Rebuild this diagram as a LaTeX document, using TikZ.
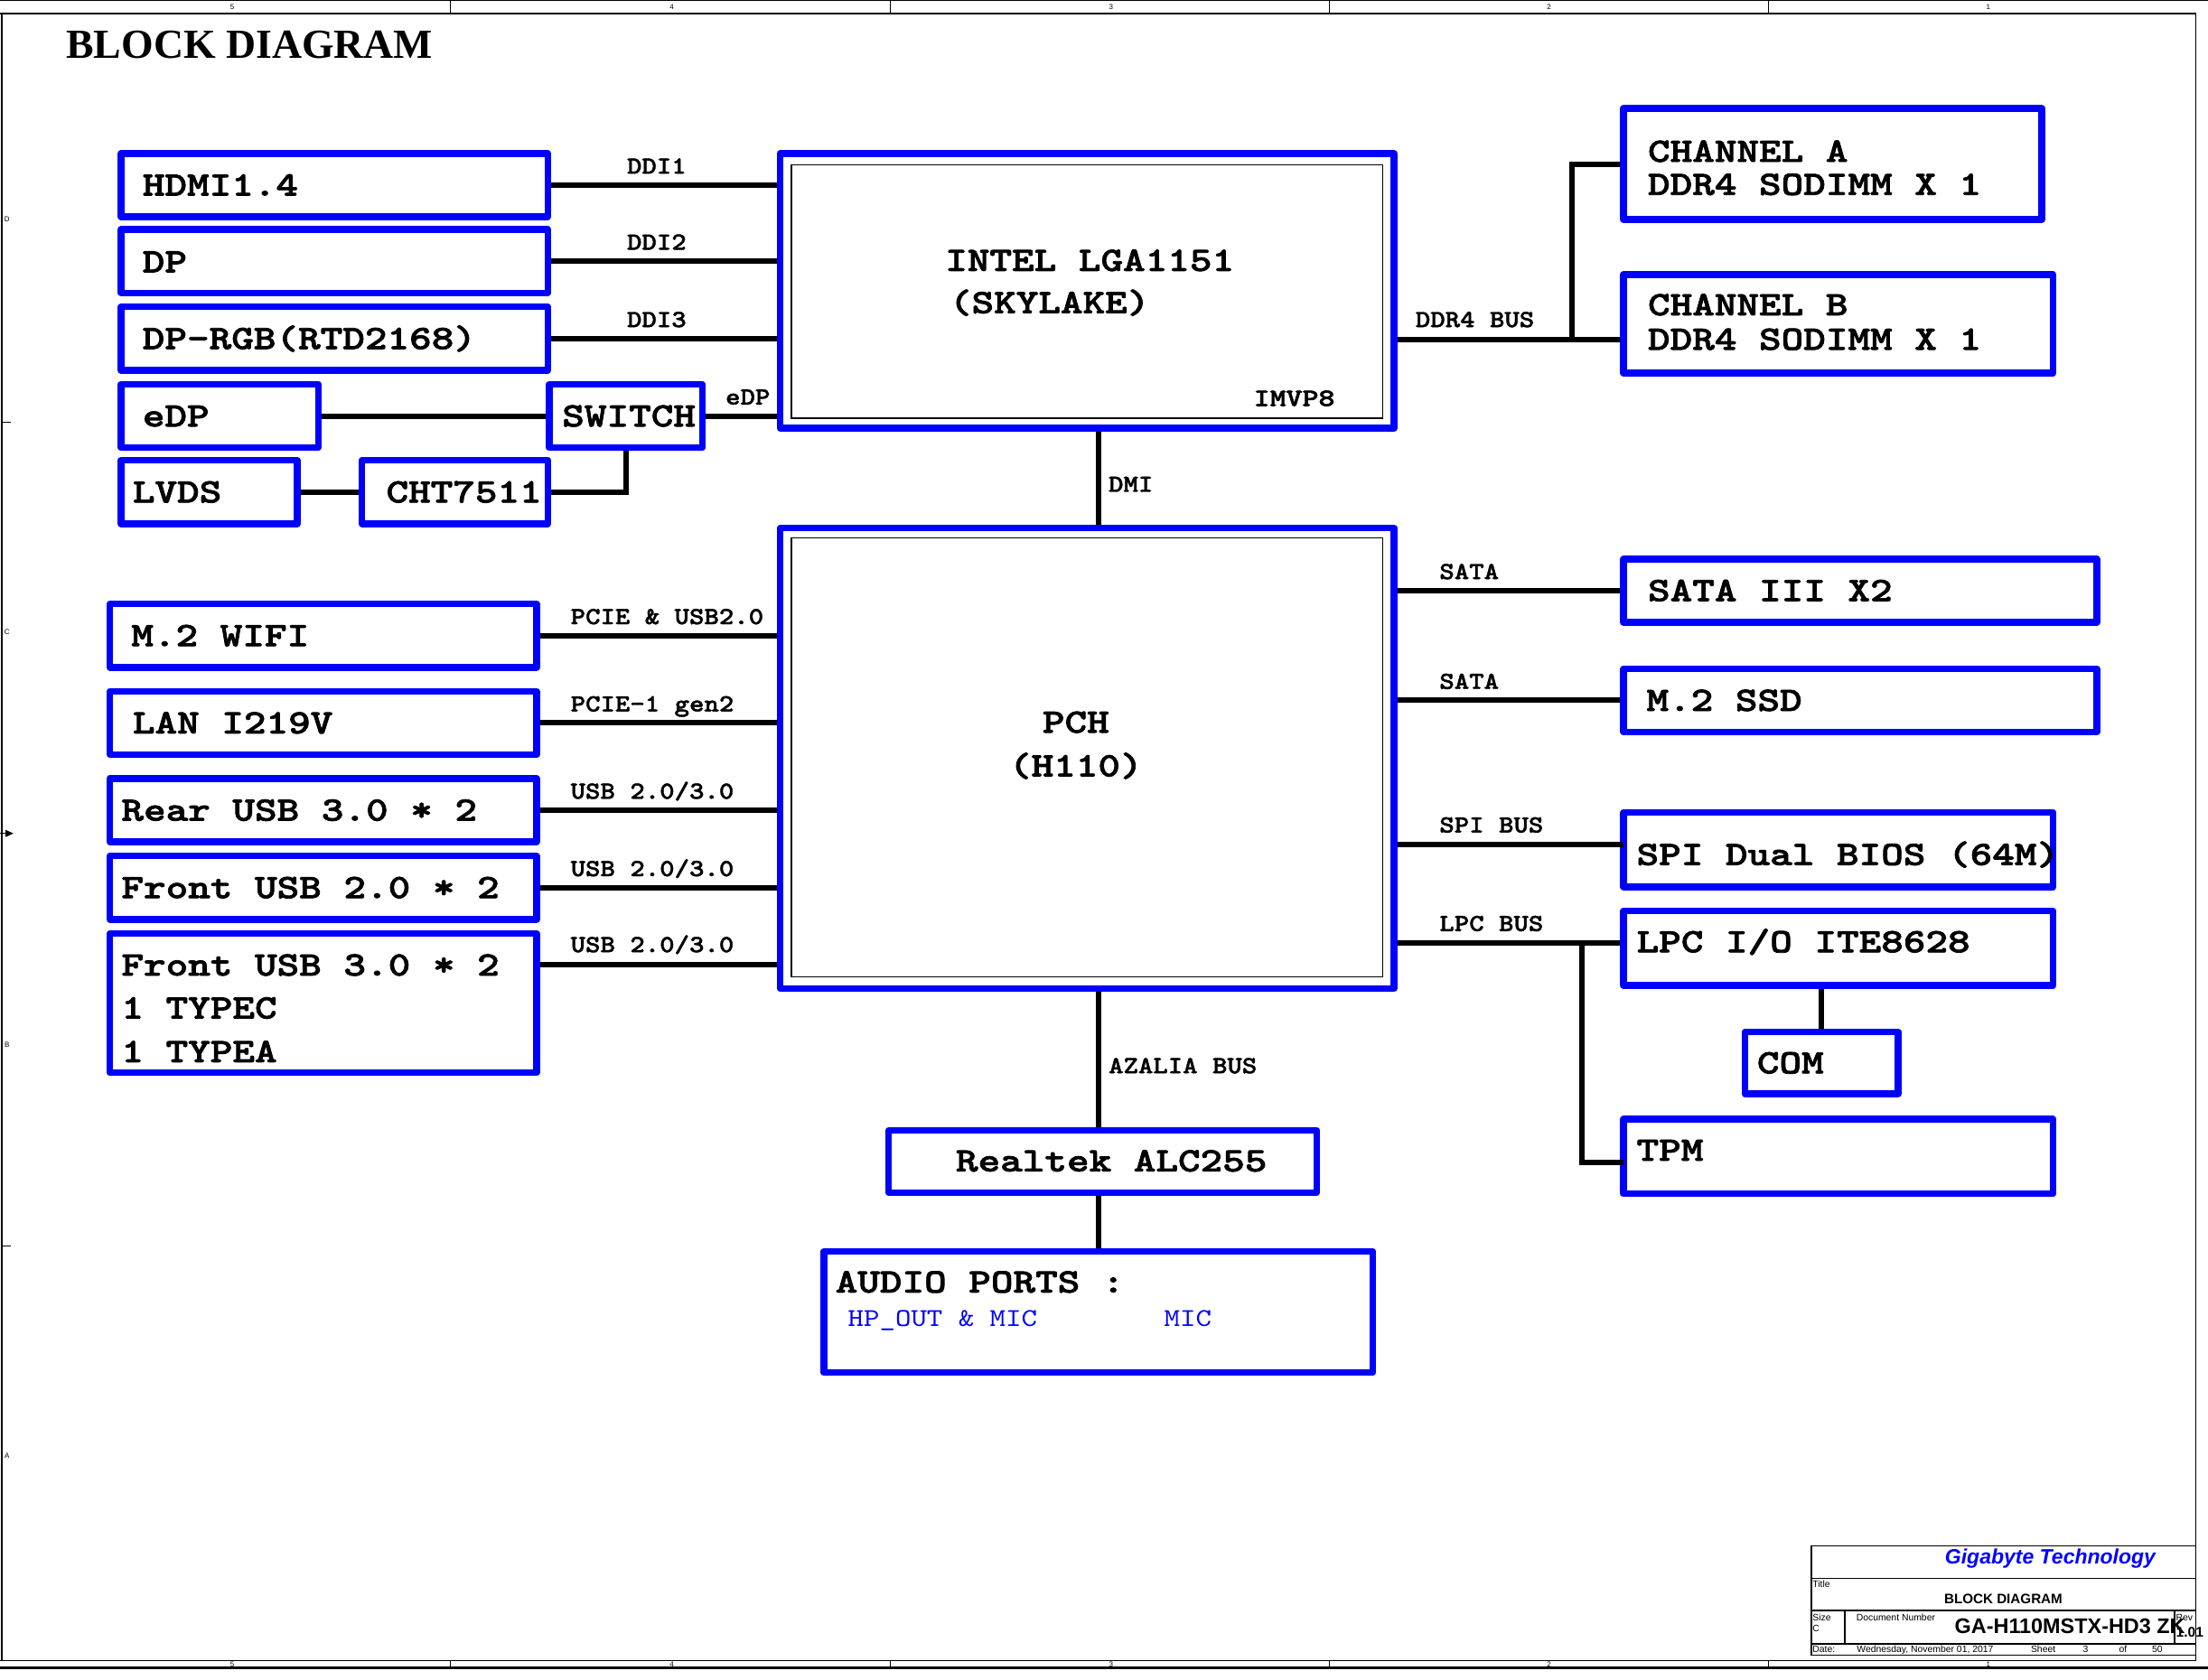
\documentclass[tikz,border=0pt]{standalone}
\usepackage{fontspec}
\setmainfont{Liberation Serif}
\newfontfamily\arialfnt{Liberation Sans}
\newfontfamily\boxfnt[FakeStretch=1.24,FakeBold=2]{lmmonolt10-bold.otf}
\newfontfamily\labfnt[FakeStretch=1.15,FakeBold=1.5]{lmmonolt10-bold.otf}
\newfontfamily\thinfnt[FakeStretch=1.17]{lmmono10-regular.otf}
\usetikzlibrary{fit}
\definecolor{bblue}{RGB}{0,0,255}
\begin{document}
\begin{tikzpicture}[x=0.77934pt,y=-0.77934pt,
 blk/.style={draw=bblue,line width=3.7pt,inner sep=0pt,line join=round},
 inr/.style={draw=black,line width=0.6pt,inner sep=0pt},
 wire/.style={draw=black,line width=3pt},
 btxt/.style={font=\boxfnt\fontsize{18.9}{22}\selectfont,inner sep=0pt,anchor=west,text height=11.55pt,text depth=0pt},
 ltxt/.style={font=\labfnt\fontsize{13.6}{16}\selectfont,inner sep=0pt,anchor=west,text height=8.3pt,text depth=0pt},
 mtxt/.style={font=\boxfnt\fontsize{13.8}{16}\selectfont,inner sep=0pt,anchor=west,text height=8.4pt,text depth=0pt},
 atxt/.style={font=\thinfnt\fontsize{14.2}{17}\selectfont,text=bblue,inner sep=0pt,anchor=west,text height=8.7pt,text depth=0pt},
 ztxt/.style={font=\arialfnt\fontsize{4}{4}\selectfont,inner sep=0pt},
 ttxt/.style={font=\arialfnt\fontsize{5.2}{6}\selectfont,inner sep=0pt,anchor=west,text height=3.8pt,text depth=0pt},
 frm/.style={draw=black,line width=0.7pt},
]
\useasboundingbox (0,0) rectangle (1568,1192.7);
% ---------- frame ----------
\draw[frm,line width=0.5pt] (0,0.5) -- (1568,0.5);
\draw[frm] (0,9.6) -- (1559.5,9.6) -- (1559.5,1179.4) -- (0,1179.4);
\draw[frm] (1.2,9.6) -- (1.2,1179.4);
\draw[frm,line width=1.5pt] (0,1184.8) -- (1568,1184.8);
\foreach \cx in {320,632,944,1256}{
  \draw[frm,line width=0.5pt] (\cx,0.5) -- (\cx,9.6);
  \draw[frm,line width=0.5pt] (\cx,1179.4) -- (\cx,1184.8);
}
\foreach \lab/\cx in {5/165,4/477,3/789,2/1100,1/1412}{
  \node[ztxt] (zt\lab) at (\cx,5) {\lab};
  \node[ztxt] (zb\lab) at (\cx,1182.1) {\lab};
}
\foreach \lab/\ry in {D/156,C/449,B/742,A/1034}{
  \node[ztxt] (zl\lab) at (5,\ry) {\lab};
}
\draw[frm,line width=0.5pt] (1.2,300) -- (8,300);
\draw[frm,line width=0.5pt] (1.2,885) -- (8,885);
\draw[frm,line width=0.5pt] (0,592) -- (5,592);
\fill (4,589.5) -- (9.5,592) -- (4,594.5) -- cycle;
% ---------- title ----------
\node[font=\bfseries\fontsize{22.9}{26}\selectfont,inner sep=0pt,anchor=west,text height=15.3pt,text depth=0pt] (title) at (46.8,31.5) {BLOCK DIAGRAM};
% ---------- title block ----------
\draw[frm,line width=0.6pt] (1286.3,1098.2) rectangle (1559.5,1175.5);
\draw[frm,line width=0.6pt] (1286.3,1121.3) -- (1559.5,1121.3);
\draw[frm,line width=0.9pt] (1286.3,1144.1) -- (1559.5,1144.1);
\draw[frm,line width=0.9pt] (1286.3,1167.6) -- (1559.5,1167.6);
\draw[frm,line width=0.9pt] (1309.9,1144.1) -- (1309.9,1167.6);
\draw[frm,line width=0.9pt] (1544,1144.1) -- (1544,1167.6);
\node[font=\arialfnt\bfseries\itshape\fontsize{11.5}{13}\selectfont,text=bblue,inner sep=0pt,anchor=west,text height=8.2pt,text depth=0pt] (tbco) at (1381,1105.6) {Gigabyte Technology};
\node[ttxt] (tbtitle) at (1287,1124.8) {Title};
\node[font=\arialfnt\bfseries\fontsize{7.6}{9}\selectfont,inner sep=0pt,anchor=west,text height=5.4pt,text depth=0pt] (tbname) at (1380.4,1135.6) {BLOCK DIAGRAM};
\node[ttxt] (tbsize) at (1287,1148.8) {Size};
\node[ttxt] (tbsizec) at (1287,1156.7) {C};
\node[ttxt] (tbdoc) at (1318,1148.8) {Document Number};
\node[font=\arialfnt\bfseries\fontsize{11.7}{13}\selectfont,inner sep=0pt,anchor=west,text height=8.4pt,text depth=0pt] (tbnum) at (1387.9,1154.8) {GA-H110MSTX-HD3 ZK};
\node[ttxt] (tbrev) at (1545,1148.8) {Rev};
\node[font=\arialfnt\bfseries\fontsize{7.8}{9}\selectfont,inner sep=0pt,anchor=west,text height=5.6pt,text depth=0pt] (tbrevn) at (1545,1159.5) {1.01};
\node[ttxt] (tbdate) at (1287,1171.5) {Date:};
\node[ttxt] (tbdatev) at (1318.4,1171.5) {Wednesday, November 01, 2017};
\node[ttxt] (tbsheet) at (1442,1171.5) {Sheet};
\node[ttxt] (tbsheetn) at (1479,1171.5) {3};
\node[ttxt] (tbof) at (1504.6,1171.5) {of};
\node[ttxt] (tbtot) at (1528,1171.5) {50};
% ---------- blocks ----------
\node[blk,fit={(86,109) (389,154)}] (hdmi) {};
\node[blk,fit={(86,163) (389,208)}] (dp) {};
\node[blk,fit={(86,218) (389,263)}] (dprgb) {};
\node[blk,fit={(86,273) (226,318)}] (edp) {};
\node[blk,fit={(390,273) (499,318)}] (switch) {};
\node[blk,fit={(86,327) (211,372)}] (lvds) {};
\node[blk,fit={(257,327) (389,372)}] (cht) {};
\node[blk,fit={(554,109) (990,304)}] (cpu) {};
\node[inr,fit={(562,117) (982,297)}] (cpuin) {};
\node[blk,fit={(1153,77) (1450,156)}] (cha) {};
\node[blk,fit={(1153,195) (1458,265)}] (chb) {};
\node[blk,fit={(554,375) (990,702)}] (pch) {};
\node[inr,fit={(562,382) (982,694)}] (pchin) {};
\node[blk,fit={(78,429) (381,474)}] (wifi) {};
\node[blk,fit={(78,491) (381,536)}] (lan) {};
\node[blk,fit={(78,553) (381,598)}] (rusb) {};
\node[blk,fit={(78,608) (381,653)}] (fusb2) {};
\node[blk,fit={(78,663) (381,762)}] (fusb3) {};
\node[blk,fit={(1153,397) (1489,442)}] (sata) {};
\node[blk,fit={(1153,475) (1489,520)}] (ssd) {};
\node[blk,fit={(1153,577) (1458,630)}] (spi) {};
\node[blk,fit={(1153,647) (1458,700)}] (lpc) {};
\node[blk,fit={(1239,733) (1348,777)}] (com) {};
\node[blk,fit={(1153,795) (1458,848)}] (tpm) {};
\node[blk,fit={(631,803) (935,847)}] (rtk) {};
\node[blk,fit={(585,889) (975,975)}] (audio) {};
% ---------- block texts ----------
\node[btxt] (hdmi-t) at (101,131.5) {HDMI1.4};
\node[btxt] (dp-t) at (101,186) {DP};
\node[btxt] (dprgb-t) at (101,240.5) {DP-RGB(RTD2168)};
\node[btxt] (edp-t) at (101,295.5) {eDP};
\node[btxt] (switch-t) at (399,295.5) {SWITCH};
\node[btxt] (lvds-t) at (94,349.5) {LVDS};
\node[btxt] (cht-t) at (274,349.5) {CHT7511};
\node[btxt] (cpu-t1) at (671,185) {INTEL LGA1151};
\node[btxt] (cpu-t2) at (674,215) {(SKYLAKE)};
\node[mtxt] (cpu-t3) at (890,283) {IMVP8};
\node[btxt] (cha-t1) at (1170,107.5) {CHANNEL A};
\node[btxt] (cha-t2) at (1170,131) {DDR4 SODIMM X 1};
\node[btxt] (chb-t1) at (1170,216.5) {CHANNEL B};
\node[btxt] (chb-t2) at (1170,241) {DDR4 SODIMM X 1};
\node[btxt,anchor=center] (pch-t1) at (764,513) {PCH};
\node[btxt,anchor=center] (pch-t2) at (764,544) {(H110)};
\node[btxt] (wifi-t) at (93,451.5) {M.2 WIFI};
\node[btxt] (lan-t) at (94,513.5) {LAN I219V};
\node[btxt] (rusb-t) at (86,575.5) {Rear USB 3.0 * 2};
\node[btxt] (fusb2-t) at (86,630.5) {Front USB 2.0 * 2};
\node[btxt] (fusb3-t1) at (86,685.5) {Front USB 3.0 * 2};
\node[btxt] (fusb3-t2) at (86,716) {1 TYPEC};
\node[btxt] (fusb3-t3) at (86,747) {1 TYPEA};
\node[btxt] (sata-t) at (1170,419.5) {SATA III X2};
\node[btxt] (ssd-t) at (1169,497.5) {M.2 SSD};
\node[btxt] (spi-t) at (1162,607) {SPI Dual BIOS (64M)};
\node[btxt] (lpc-t) at (1162,669) {LPC I/O ITE8628};
\node[btxt] (com-t) at (1247.5,755) {COM};
\node[btxt] (tpm-t) at (1162,817) {TPM};
\node[btxt] (rtk-t) at (678.5,824.6) {Realtek ALC255};
\node[btxt] (audio-t1) at (593,910.6) {AUDIO PORTS :};
\node[atxt] (audio-t2) at (602,936.5) {HP\_OUT \& MIC};
\node[atxt] (audio-t3) at (826.5,936.5) {MIC};
% ---------- connectors ----------
\coordinate (bus) at (780,0);
\coordinate (ddrj) at (1116,241);
\coordinate (chaj) at (1116,117);
\coordinate (spij) at (1153,600);
\coordinate (lpcj) at (1123.5,670);
\coordinate (tpmj) at (1153,826);
\draw[wire] (hdmi.east) -- (hdmi.east -| cpu.west);
\draw[wire] (dp.east) -- (dp.east -| cpu.west);
\draw[wire] (dprgb.east) -- (dprgb.east -| cpu.west);
\draw[wire] (edp.east) -- (switch.west);
\draw[wire] (switch.east) -- (switch.east -| cpu.west);
\draw[wire] (lvds.east) -- (cht.west);
\draw[wire] (cht.east) -| (switch.south);
\draw[wire] (bus |- cpu.south) -- (bus |- pch.north);
\draw[wire] (cpu.east |- ddrj) -- (chb.west |- ddrj);
\draw[wire] (ddrj) -- (chaj) -- (cha.west |- chaj);
\draw[wire] (wifi.east) -- (wifi.east -| pch.west);
\draw[wire] (lan.east) -- (lan.east -| pch.west);
\draw[wire] (rusb.east) -- (rusb.east -| pch.west);
\draw[wire] (fusb2.east) -- (fusb2.east -| pch.west);
\draw[wire] (fusb3.east |- fusb3-t1) -- (pch.west |- fusb3-t1);
\draw[wire] (pch.east |- sata.west) -- (sata.west);
\draw[wire] (pch.east |- ssd.west) -- (ssd.west);
\draw[wire] (pch.east |- spij) -- (spij);
\draw[wire] (pch.east |- lpcj) -- (lpc.west |- lpcj);
\draw[wire] (lpcj) |- (tpmj);
\draw[wire] (com.north) -- (com.north |- lpc.south);
\draw[wire] (bus |- pch.south) -- (bus |- rtk.north);
\draw[wire] (bus |- rtk.south) -- (audio.north);
% ---------- connector labels ----------
\node[ltxt] (l-ddi1) at (445,118) {DDI1};
\node[ltxt] (l-ddi2) at (445,172) {DDI2};
\node[ltxt] (l-ddi3) at (445,227) {DDI3};
\node[ltxt] (l-edp) at (515,282) {eDP};
\node[ltxt] (l-dmi) at (787,344) {DMI};
\node[ltxt] (l-ddr) at (1005,227) {DDR4 BUS};
\node[ltxt] (l-wifi) at (405,438) {PCIE \& USB2.0};
\node[ltxt] (l-lan) at (405,500) {PCIE-1 gen2};
\node[ltxt] (l-usb1) at (405,562) {USB 2.0/3.0};
\node[ltxt] (l-usb2) at (405,617) {USB 2.0/3.0};
\node[ltxt] (l-usb3) at (405,671) {USB 2.0/3.0};
\node[ltxt] (l-sata1) at (1022,406) {SATA};
\node[ltxt] (l-sata2) at (1022,484) {SATA};
\node[ltxt] (l-spi) at (1022,586) {SPI BUS};
\node[ltxt] (l-lpc) at (1022,656) {LPC BUS};
\node[ltxt] (l-aza) at (787,757) {AZALIA BUS};
\end{tikzpicture}
\end{document}
